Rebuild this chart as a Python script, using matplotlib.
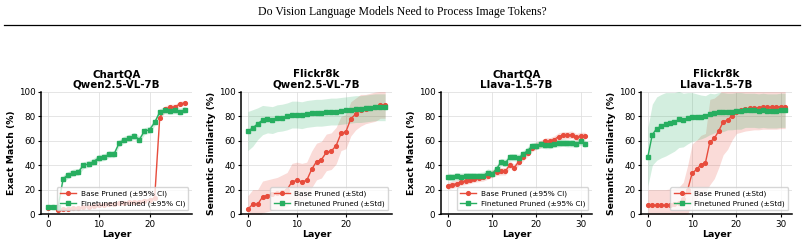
import numpy as np
import matplotlib
matplotlib.use("Agg")
import matplotlib.pyplot as plt

RED = "#e74c3c"
GREEN = "#27ae60"

# --- ChartQA / Qwen2.5-VL-7B ---
qc_base = [5, 5.5, 3, 4, 4.5, 5, 5, 5.5, 6, 6.5, 7, 7.5, 8, 8, 9, 9, 9.5, 10,
           10, 11, 11.5, 13, 79, 86, 87.5, 87.5, 90.5, 91]
qc_base_err = [1.5] * 22 + [2.5, 2.5, 2.5, 2.5, 2, 2]
qc_ft = [5.5, 6, 5.5, 29, 32, 34, 34.5, 40, 41, 43, 46, 46.5, 49, 49, 58, 61,
         62.5, 64, 61, 68, 69, 75, 83.5, 85, 84.5, 85, 84, 85.5]
qc_ft_err = [1.5, 1.5, 1.5] + [2.8] * 25

# --- Flickr8k / Qwen2.5-VL-7B ---
qf_base = [4, 8, 8, 14, 15, 16, 17, 18, 20, 26.5, 27.5, 26.5, 27.5, 36.5, 43,
           44.5, 50.5, 51.5, 56, 66, 67.5, 78, 82, 85, 86, 87, 88, 89.5, 89.5]
qf_base_err = [11, 12, 12, 13, 13, 13, 13, 14, 14, 15, 15, 15, 15, 15, 15,
               15, 15, 15, 15, 14, 14, 14, 13, 13, 12, 12, 12, 11, 11]
qf_ft = [68, 70.5, 74, 77, 77.5, 77, 78.5, 79, 80, 81.5, 81.5, 81, 82, 82.5, 83,
         83, 83.5, 84, 84, 84.5, 85, 85.5, 86, 86, 86.5, 87, 87.5, 87.5, 87.5]
qf_ft_err = [16, 15, 13, 12, 11, 11, 11, 11, 11, 11, 11, 11, 11, 11, 11,
             11, 11, 11, 11, 11, 11, 11, 11, 11, 11, 11, 11, 11, 11]

# --- ChartQA / Llava-1.5-7B ---
lc_base = [23, 24, 25, 26.5, 27, 28, 29, 29.5, 30, 31.5, 33, 34.5, 35, 35, 40.5,
           38, 43, 46.5, 50, 54, 56, 57.5, 59.5, 59.5, 61, 63.5, 64.5, 64.5, 65,
           63, 64, 64]
lc_ft = [30.5, 30, 31, 30.5, 31, 31, 31, 31, 31.5, 34, 33, 37, 42.5, 42, 46.5,
         46.5, 46, 49, 52, 55.5, 56, 57, 56.5, 56.5, 57.5, 58, 58.5, 58, 58, 57.5,
         59.5, 57.5]
lc_err = [3] * 32

# --- Flickr8k / Llava-1.5-7B ---
lf_base = [7, 7, 7, 7, 7, 7.5, 8, 9, 12, 20, 33.5, 36.5, 40.5, 42, 59, 62, 68,
           75.5, 77, 80.5, 84, 85, 86, 86.5, 87, 87, 87.5, 87.5, 87.5, 87.5, 88, 88]
lf_base_err = [13, 13, 13, 13, 13, 13, 13, 13, 14, 20, 24, 24, 24, 24, 35, 33,
               30, 27, 24, 20, 18, 18, 18, 18, 18, 18, 18, 18, 18, 18, 18, 18]
lf_ft = [47, 65, 70, 72, 73.5, 74.5, 75.5, 77.5, 77, 78.5, 79.5, 79.5, 79.5, 80,
         82, 82.5, 83.5, 83.5, 84, 84, 84.5, 84.5, 85, 85, 85, 84.5, 85, 84.5,
         84.5, 84.5, 85, 85]
lf_ft_err = [24, 25, 26, 26, 26, 25, 24, 23, 22, 21, 20, 19, 18, 17, 17, 16, 16,
             16, 15, 15, 15, 15, 14, 14, 14, 14, 14, 14, 14, 14, 14, 14]

panels = [
    ("ChartQA\nQwen2.5-VL-7B", "Exact Match (%)", qc_base, qc_base_err, qc_ft, qc_ft_err, "±95% CI"),
    ("Flickr8k\nQwen2.5-VL-7B", "Semantic Similarity (%)", qf_base, qf_base_err, qf_ft, qf_ft_err, "±Std"),
    ("ChartQA\nLlava-1.5-7B", "Exact Match (%)", lc_base, lc_err, lc_ft, lc_err, "±95% CI"),
    ("Flickr8k\nLlava-1.5-7B", "Semantic Similarity (%)", lf_base, lf_base_err, lf_ft, lf_ft_err, "±Std"),
]

W, H = 804, 243
fig = plt.figure(figsize=(W / 100, H / 100), dpi=100)

fig.text(0.5, 1 - 12.5 / H, "Do Vision Language Models Need to Process Image Tokens?",
         ha="center", va="center", family="Liberation Serif", fontsize=8.5)
fig.add_artist(plt.Line2D([4 / W, 800 / W], [1 - 25 / H] * 2, color="black", lw=0.9))

lefts = [41, 241, 441, 641]
for left, (title, ylabel, base, base_err, ft, ft_err, tag) in zip(lefts, panels):
    ax = fig.add_axes([left / W, 1 - 214 / H, 151 / W, 122 / H])
    x = np.arange(len(base))
    b = np.array(base)
    be = np.array(base_err)
    f = np.array(ft)
    fe = np.array(ft_err)
    ax.fill_between(x, b - be, b + be, color=RED, alpha=0.2, lw=0)
    ax.plot(x, b, "-o", color=RED, lw=1, ms=2.7, label=f"Base Pruned ({tag})")
    ax.fill_between(x, f - fe, f + fe, color=GREEN, alpha=0.2, lw=0)
    ax.plot(x, f, "-s", color=GREEN, lw=1, ms=2.7, label=f"Finetuned Pruned ({tag})")
    ax.set_ylim(0, 100)
    ax.set_title(title, fontsize=7.4, fontweight="bold", pad=3, linespacing=1.1)
    ax.set_xlabel("Layer", fontsize=6.8, fontweight="bold", labelpad=1)
    ax.set_ylabel(ylabel, fontsize=6.7, fontweight="bold", labelpad=2)
    ax.tick_params(labelsize=6.3, length=2.5, width=0.8, pad=1.5)
    ax.grid(True, color="#e0e0e0", lw=0.6)
    ax.set_axisbelow(True)
    for s in ("top", "right"):
        ax.spines[s].set_visible(False)
    for s in ("left", "bottom"):
        ax.spines[s].set_linewidth(1.1)
    ax.legend(loc="lower right", fontsize=5.3, handlelength=2.2, borderpad=0.45,
              labelspacing=0.45, handletextpad=0.6)

fig.savefig("out.png", dpi=100)
